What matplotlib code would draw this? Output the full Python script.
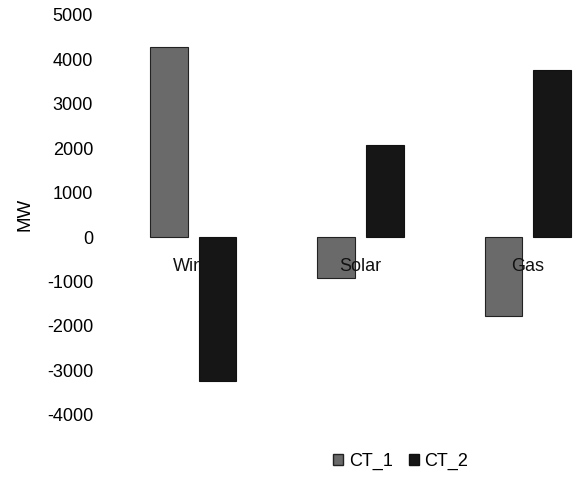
import matplotlib
matplotlib.use("Agg")
import matplotlib.pyplot as plt
import matplotlib.transforms as mtransforms
from matplotlib.patches import Patch
import numpy as np

categories = ["Wind", "Solar", "Gas"]
ct1 = [4280, -920, -1780]
ct2 = [-3230, 2080, 3750]
series_names = ["CT_1", "CT_2"]
yticks = [-4000, -3000, -2000, -1000, 0, 1000, 2000, 3000, 4000, 5000]

c1 = "#6a6a6a"
c2 = "#161616"
fam = "Liberation Sans"

fig = plt.figure(figsize=(5.75, 4.78), dpi=100)
ax = fig.add_axes([0.191, 0.132, 0.872, 0.837])

x = np.arange(len(categories))
w = 0.225
off = 0.145
ax.bar(x - off, ct1, width=w, color=c1, edgecolor="#222222", linewidth=0.8, zorder=1)
ax.bar(x + off, ct2, width=w, color=c2, edgecolor="#111111", linewidth=0.8, zorder=3)

trans = mtransforms.offset_copy(ax.transData, fig=fig, x=0, y=-21, units="dots")
for i, c in enumerate(categories):
    ax.text(i, 0, c, transform=trans, ha="center", va="top", fontsize=13,
            family=fam, color="#111111", zorder=2)

ax.set_xlim(-0.5, 2.5)
ax.set_ylim(-4000, 5000)
ax.set_yticks(yticks)
ax.set_yticklabels([str(v) for v in yticks], fontsize=13, family=fam)
ax.set_xticks([])
ax.tick_params(axis="y", length=0, pad=12)
for s in ax.spines.values():
    s.set_visible(False)
ax.set_ylabel("MW", fontsize=13.5, family=fam, labelpad=10)

handles = [Patch(facecolor=c1, edgecolor="#222222"), Patch(facecolor=c2, edgecolor="#111111")]
fig.legend(handles, series_names, loc="center", bbox_to_anchor=(0.697, 0.034), ncol=2,
           frameon=False, handlelength=0.55, handleheight=0.55, handletextpad=0.3,
           columnspacing=0.9, prop={"family": fam, "size": 13})

fig.savefig("out.png", dpi=100)
